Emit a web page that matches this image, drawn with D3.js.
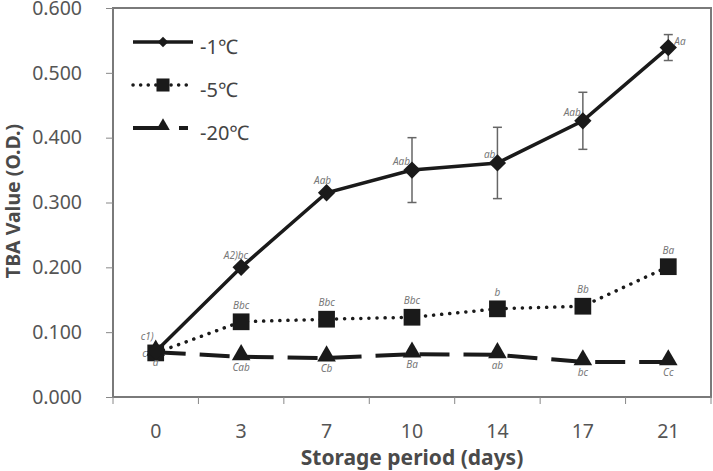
<!DOCTYPE html>
<html>
<head>
<meta charset="utf-8">
<script src="https://cdn.jsdelivr.net/npm/d3@7"></script>
<style>
  body { margin: 0; background: #fff; }
  svg { display: block; }
  text { font-family: "Noto Sans", "Noto Sans CJK KR", sans-serif; }
</style>
</head>
<body>
<div id="chart"></div>
<script>
// days on the x axis
const days = ["0", "3", "7", "10", "14", "17", "21"];

// TBA values for each storage temperature
const minus1 = [0.070, 0.200, 0.315, 0.350, 0.361, 0.426, 0.539];
const minus1Err = [0, 0, 0, 0.050, 0.055, 0.044, 0.020];
const minus5 = [0.068, 0.116, 0.120, 0.123, 0.136, 0.140, 0.201];
const minus20 = [0.069, 0.062, 0.060, 0.066, 0.065, 0.054, 0.054];

// significance letters
const minus1Labels = ["c1)", "A2)bc", "Aab", "Aab", "ab", "Aab", "Aa"];
const minus5Labels = ["c", "Bbc", "Bbc", "Bbc", "b", "Bb", "Ba"];
const minus20Labels = ["a", "Cab", "Cb", "Ba", "ab", "bc", "Cc"];

const yTicks = [0, 0.1, 0.2, 0.3, 0.4, 0.5, 0.6];
const legendNames = ["-1\u2103", "-5\u2103", "-20\u2103"];

var width = 713, height = 471;
var plotLeft = 113, plotRight = 711, plotTop = 8, plotBottom = 397;

var svg = d3.select("#chart").append("svg")
    .attr("width", width)
    .attr("height", height);

var x = d3.scaleBand().domain(days).range([plotLeft, plotRight]).padding(0);
var y = d3.scaleLinear().domain([0, 0.6]).range([plotBottom, plotTop]);
var cx = function(i) { return x(days[i]) + x.bandwidth() / 2; };

// frame
svg.append("rect")
    .attr("x", plotLeft).attr("y", plotTop)
    .attr("width", plotRight - plotLeft).attr("height", plotBottom - plotTop)
    .attr("fill", "none").attr("stroke", "#7a7a7a").attr("stroke-width", 2);

// y axis
var yAxis = svg.append("g")
    .attr("transform", "translate(" + plotLeft + ",0)")
    .call(d3.axisLeft(y).tickValues(yTicks).tickFormat(d3.format(".3f")).tickSize(7).tickPadding(24));
yAxis.select(".domain").remove();
yAxis.selectAll("line").attr("stroke", "#888");
yAxis.selectAll("text").attr("fill", "#555").style("font-size", "19.5px");

// x axis: labels centred, ticks on band edges
var xAxis = svg.append("g")
    .attr("transform", "translate(0," + plotBottom + ")")
    .call(d3.axisBottom(x).tickSize(0).tickPadding(27));
xAxis.select(".domain").remove();
xAxis.selectAll("text").attr("fill", "#555").style("font-size", "19.5px");
var edges = days.map(function(d) { return x(d); }).concat([plotRight]);
svg.selectAll(".xedge").data(edges).enter().append("line")
    .attr("x1", function(d) { return d; }).attr("x2", function(d) { return d; })
    .attr("y1", plotBottom).attr("y2", plotBottom + 7)
    .attr("stroke", "#888");

// axis titles
svg.append("text")
    .attr("transform", "translate(20," + 201 + ") rotate(-90)")
    .attr("text-anchor", "middle")
    .attr("fill", "#4a4a4a").style("font-size", "19.5px").style("font-weight", "bold")
    .text("TBA Value (O.D.)");
svg.append("text")
    .attr("x", (plotLeft + plotRight) / 2).attr("y", 465)
    .attr("text-anchor", "middle")
    .attr("fill", "#4a4a4a").style("font-size", "21px").style("font-weight", "bold")
    .text("Storage period (days)");

var line = d3.line().x(function(d, i) { return cx(i); }).y(function(d) { return y(d); });

// series lines
var seriesStyle = [
  { data: minus20, width: 4, dash: "30,14", cap: "butt" },
  { data: minus5, width: 3.5, dash: "0.1,8", cap: "round" },
  { data: minus1, width: 3.5, dash: null, cap: "butt" }
];
seriesStyle.forEach(function(s) {
  svg.append("path").datum(s.data)
    .attr("d", line)
    .attr("fill", "none").attr("stroke", "#1a1a1a")
    .attr("stroke-width", s.width)
    .attr("stroke-linecap", s.cap)
    .attr("stroke-dasharray", s.dash);
});

// error bars for -1
var errG = svg.append("g").attr("stroke", "#666").attr("stroke-width", 1.5);
minus1.forEach(function(v, i) {
  if (!minus1Err[i]) return;
  var x0 = cx(i), y1 = y(v + minus1Err[i]), y2 = y(v - minus1Err[i]);
  errG.append("line").attr("x1", x0).attr("x2", x0).attr("y1", y1).attr("y2", y2);
  errG.append("line").attr("x1", x0 - 4.5).attr("x2", x0 + 4.5).attr("y1", y1).attr("y2", y1);
  errG.append("line").attr("x1", x0 - 4.5).attr("x2", x0 + 4.5).attr("y1", y2).attr("y2", y2);
});

// markers
var tri = d3.symbol().type(d3.symbolTriangle).size(150);
var sq = d3.symbol().type(d3.symbolSquare).size(280);
var dia = d3.symbol().type(d3.symbolSquare).size(150);
svg.selectAll(".m20").data(minus20).enter().append("path")
    .attr("d", tri).attr("fill", "#1a1a1a")
    .attr("transform", function(d, i) { return "translate(" + cx(i) + "," + (y(d) - 2) + ")"; });
svg.selectAll(".m5").data(minus5).enter().append("path")
    .attr("d", sq).attr("fill", "#1a1a1a")
    .attr("transform", function(d, i) { return "translate(" + cx(i) + "," + y(d) + ")"; });
svg.selectAll(".m1").data(minus1).enter().append("path")
    .attr("d", dia).attr("fill", "#1a1a1a")
    .attr("transform", function(d, i) { return "translate(" + cx(i) + "," + y(d) + ") rotate(45)"; });

// letters
function letters(vals, labels, place) {
  svg.selectAll(null).data(vals).enter().append("text")
    .attr("x", function(d, i) { return cx(i) + place(i).dx; })
    .attr("y", function(d, i) { return y(d) + place(i).dy; })
    .attr("text-anchor", function(d, i) { return place(i).anchor; })
    .attr("fill", "#777").style("font-size", "10px").style("font-style", "italic")
    .text(function(d, i) { return labels[i]; });
}
letters(minus1, minus1Labels, function(i) {
  if (i === 0) return { dx: -2, dy: -12, anchor: "end" };
  if (i === 1) return { dx: 7, dy: -8, anchor: "end" };
  if (i === 2) return { dx: -4, dy: -9, anchor: "middle" };
  if (i === 6) return { dx: 6, dy: -3, anchor: "start" };
  return { dx: -2, dy: -5, anchor: "end" };
});
letters(minus5, minus5Labels, function(i) {
  if (i === 0) return { dx: -9, dy: 4, anchor: "end" };
  return { dx: 0, dy: -13, anchor: "middle" };
});
letters(minus20, minus20Labels, function(i) {
  return { dx: 0, dy: 14, anchor: "middle" };
});

// legend
var legend = svg.append("g");
var legendDia = d3.symbol().type(d3.symbolSquare).size(55);
var legendSq = d3.symbol().type(d3.symbolSquare).size(170);
var legendTri = d3.symbol().type(d3.symbolTriangle).size(80);
var legendRows = [
  { y: 42, width: 3.5, dash: null, cap: "butt", marker: legendDia, rot: 45, x2: 193 },
  { y: 85, width: 3.5, dash: "0.1,7.5", cap: "round", marker: legendSq, rot: 0, x2: 188 },
  { y: 128, width: 4, dash: "30,16", cap: "butt", marker: legendTri, rot: 0, x2: 188 }
];
legendRows.forEach(function(r, i) {
  legend.append("line")
    .attr("x1", 133).attr("x2", r.x2).attr("y1", r.y).attr("y2", r.y)
    .attr("stroke", "#1a1a1a").attr("stroke-width", r.width)
    .attr("stroke-linecap", r.cap).attr("stroke-dasharray", r.dash);
  legend.append("path").attr("d", r.marker).attr("fill", "#1a1a1a")
    .attr("transform", "translate(163," + (r.y - (i === 2 ? 2 : 0)) + ") rotate(" + r.rot + ")");
  legend.append("text")
    .attr("x", 200).attr("y", r.y + 12)
    .attr("fill", "#444").style("font-size", "20px")
    .text(legendNames[i]);
});
</script>
</body>
</html>
